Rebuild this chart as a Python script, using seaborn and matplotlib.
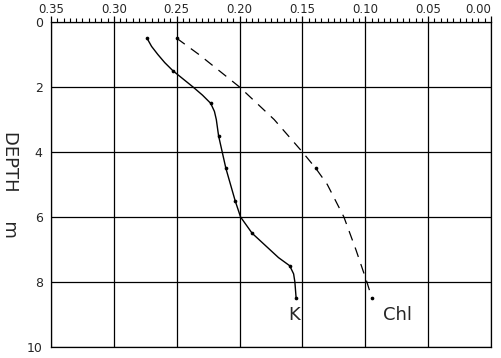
import numpy as np
import pandas as pd
import matplotlib
matplotlib.use("Agg")
import matplotlib.pyplot as plt
from matplotlib.ticker import MultipleLocator
import seaborn as sns

# ---- values ----
# K profile: measured points (dots) and the drawn curve through them
k_depth = [0.5, 1.5, 2.5, 3.5, 4.5, 5.5, 6.5, 7.5, 8.5]
k_value = [0.2736, 0.2530, 0.2230, 0.2167, 0.2109, 0.2035, 0.1900, 0.1601, 0.1550]
k_curve_depth = [0.5, 0.75, 1.0, 1.25, 1.5, 1.75, 2.0, 2.25, 2.5, 2.75, 3.0, 3.5, 4.5, 5.5, 6.0,
                 6.5, 6.75, 7.0, 7.25, 7.5, 7.75, 8.0, 8.5]
k_curve_value = [0.2736, 0.2700, 0.2650, 0.2595, 0.2530, 0.2450, 0.2370, 0.2295, 0.2230, 0.2200,
                 0.2185, 0.2167, 0.2109, 0.2035, 0.1992, 0.1900, 0.1830, 0.1760, 0.1690, 0.1601,
                 0.1570, 0.1560, 0.1550]

# Chl profile
chl_depth = [0.5, 4.5, 8.5]
chl_value = [0.2500, 0.1394, 0.0947]
chl_curve_depth = [0.5, 1.0, 2.0, 3.0, 4.0, 4.5, 5.0, 6.0, 7.0, 8.0, 8.5]
chl_curve_value = [0.2500, 0.2323, 0.2000, 0.1725, 0.1500, 0.1394, 0.1302, 0.1170, 0.1075, 0.0987, 0.0947]

x_ticks = [0.35, 0.30, 0.25, 0.20, 0.15, 0.10, 0.05, 0.00]
y_ticks = [0, 2, 4, 6, 8, 10]

sns.set_style("white")
plt.rcParams["font.family"] = ["DejaVu Sans"]

fig = plt.figure(figsize=(5.01, 3.58), dpi=100)
ax = fig.add_axes([0.1018, 0.0307, 0.8782, 0.9078])

# grid
for xv in x_ticks:
    ax.axvline(xv, color="black", lw=0.9, zorder=1)
for yv in y_ticks:
    ax.axhline(yv, color="black", lw=0.9, zorder=1)

k_line = pd.DataFrame({"depth": k_curve_depth, "value": k_curve_value})
chl_line = pd.DataFrame({"depth": chl_curve_depth, "value": chl_curve_value})

sns.lineplot(data=k_line, x="value", y="depth", sort=False, estimator=None,
             color="black", lw=1.0, ax=ax, zorder=3)
sns.lineplot(data=chl_line, x="value", y="depth", sort=False, estimator=None,
             color="black", lw=0.9, ax=ax, zorder=3, linestyle=(0, (8, 6)))

pts = pd.DataFrame({"depth": k_depth + chl_depth, "value": k_value + chl_value})
sns.scatterplot(data=pts, x="value", y="depth", color="black", s=7,
                edgecolor="black", linewidth=0, ax=ax, zorder=4)

ax.set_xlim(0.35, 0.0)
ax.set_ylim(10, 0)

ax.xaxis.set_ticks_position("top")
ax.xaxis.set_label_position("top")
ax.set_xticks(x_ticks)
ax.set_xticklabels([f"{v:.2f}" for v in x_ticks])
ax.xaxis.set_minor_locator(MultipleLocator(0.005))
ax.set_yticks(y_ticks)
ax.yaxis.set_minor_locator(MultipleLocator(0.2))

ax.tick_params(axis="x", which="major", direction="out", length=4, width=0.9,
               labelsize=8.5, pad=0, color="black")
ax.tick_params(axis="x", which="minor", direction="out", length=3, width=0.8, color="black")
ax.tick_params(axis="y", which="major", direction="out", length=5, width=0.9,
               labelsize=9, pad=1, color="black")
ax.tick_params(axis="y", which="minor", direction="out", length=3, width=0.8, color="black")

# last label sits against the figure edge, keep it inside
ax.get_xticklabels()[-1].set_horizontalalignment("right")
ax.get_xticklabels()[-1].set_x(0.0)

for sp in ax.spines.values():
    sp.set_color("black")
    sp.set_linewidth(0.9)

ax.set_xlabel("")
ax.set_ylabel("DEPTH     m", fontsize=13, rotation=-90, labelpad=12, va="center")

ax.text(0.1565, 9.0, "K", fontsize=13, ha="center", va="center")
ax.text(0.0745, 9.0, "Chl", fontsize=13, ha="center", va="center")

fig.savefig("out.png", dpi=100)
